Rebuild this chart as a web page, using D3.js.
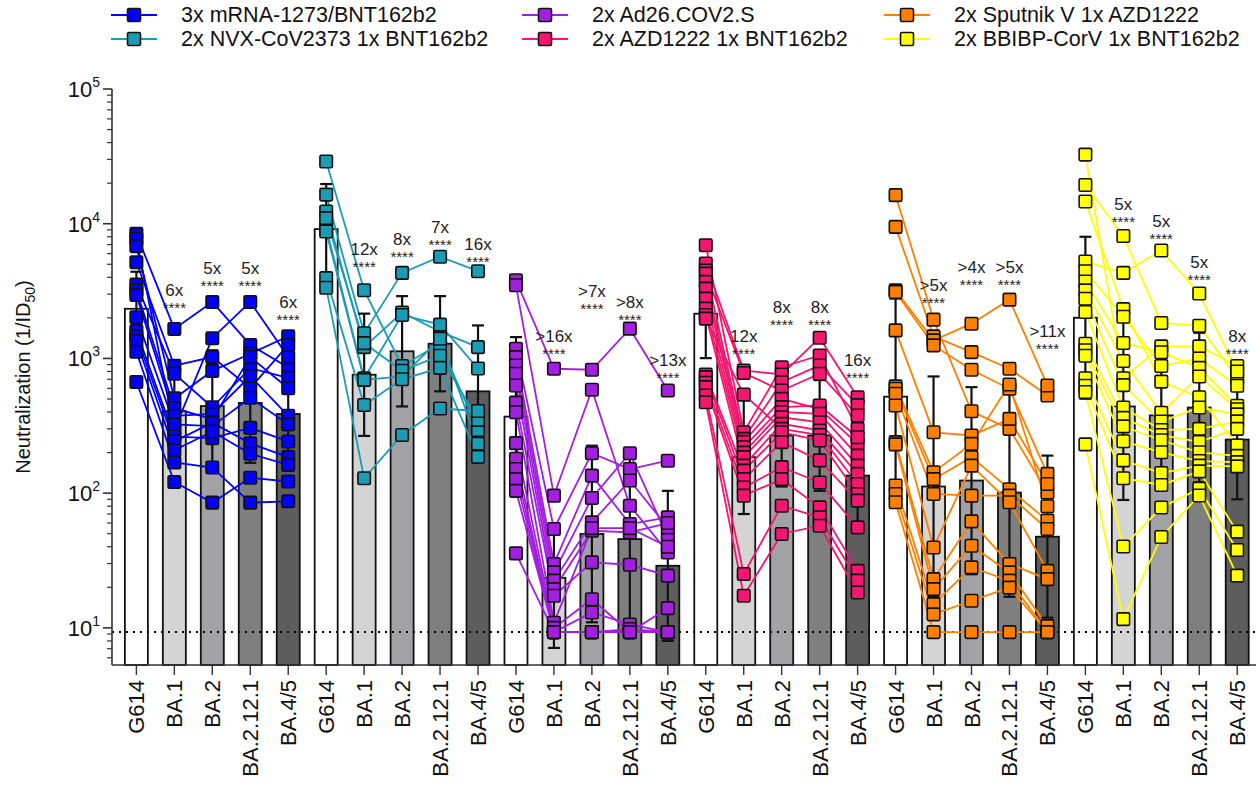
<!DOCTYPE html>
<html>
<head>
<meta charset="utf-8">
<script src="https://cdn.jsdelivr.net/npm/d3@7"></script>
<style>
  body { margin: 0; background: #fff; }
  text { font-family: "Liberation Sans", Arial, sans-serif; }
</style>
</head>
<body>
<svg id="chart" width="1260" height="788"></svg>
<script>
// variants measured for every vaccine group
const variants = ["G614", "BA.1", "BA.2", "BA.2.12.1", "BA.4/5"];
const barFills = ["#ffffff", "#d4d4d4", "#a2a2a6", "#7f7f7f", "#5d5d5d"];

const groupNames = ["3x mRNA-1273/BNT162b2", "2x NVX-CoV2373 1x BNT162b2", "2x Ad26.COV2.S",
                    "2x AZD1222 1x BNT162b2", "2x Sputnik V 1x AZD1222", "2x BBIBP-CorV 1x BNT162b2"];
const groupColors = ["#0000ff", "#1a9db4", "#a21fe0", "#f4166f", "#ff8000", "#ffff00"];

// one row per donor: G614, BA.1, BA.2, BA.2.12.1, BA.4/5
const mrnaDonors = [
  [8400, 1655, 2625, 1259, 857], [7700, 296, 1413, 2625, 1023], [6820, 505, 808, 1084, 1460],
  [5180, 883, 1023, 601, 1259], [3530, 771, 434, 847, 717], [3200, 427, 354, 1023, 601],
  [2960, 375, 387, 740, 375], [2020, 324, 314, 510, 324], [1600, 263, 256, 305, 242],
  [1460, 242, 334, 234, 185], [1340, 208, 287, 196, 162], [1120, 169, 155, 85, 87],
  [668, 121, 85, 130, 122]
];
const nvxDonors = [
  [28970, 3210, 879, 1286, 294], [16450, 1537, 4315, 5690, 4443], [12330, 1213, 2191, 1582, 1213],
  [9290, 713, 2100, 1782, 841], [8750, 693, 735, 1400, 233], [11000, 1300, 810, 1047, 350],
  [3945, 451, 700, 851, 186], [3350, 129, 270, 425, 407]
];
const ad26Donors = [
  [3800, 838, 824, 1663, 578], [3490, 95.8, 585, 80.7, 36.3], [1181, 54.2, 198, 151, 174],
  [1023, 29.8, 135, 59, 66.1], [887, 25.8, 92, 198, 46.9], [769, 22.4, 60.7, 124, 55.7],
  [630, 19.4, 52.6, 51.1, 60], [470, 17.3, 30.6, 29.4, 24.4], [399, 10.9, 55, 55, 40],
  [235, 10, 16.3, 9.3, 14], [180, 9.3, 13, 10.6, 9.3], [151, 9.3, 9.3, 9.8, 9.3],
  [127, 9.3, 9.3, 9.3, 9.3], [104, 9.3, 9.3, 9.3, 9.3], [35.7, 9.3, 9.3, 9.3, 9.3]
];
const azdDonors = [
  [6920, 283, 861, 1052, 300], [5060, 814, 760, 1425, 515], [4500, 253, 666, 887, 450],
  [4260, 780, 578, 769, 377], [3700, 240, 501, 420, 232], [3300, 219, 435, 447, 260],
  [2780, 200, 400, 388, 190], [2343, 185, 366, 336, 160], [2100, 160, 327, 292, 139],
  [1973, 540, 300, 270, 117], [760, 147, 283, 246, 98.6], [726, 127, 239, 175, 88],
  [660, 110, 156, 120, 55.7], [612, 95.8, 127, 78.4, 26.5], [530, 25.1, 80.7, 66.1, 22.4],
  [473, 17.3, 49.8, 57.3, 18.3]
];
const sputnikDonors = [
  [16290, 1940, 405, 300, 101], [9470, 1458, 1114, 838, 531], [3200, 1361, 1811, 2731, 630],
  [3110, 1249, 824, 595, 139], [1615, 283, 268, 356, 117], [620, 143, 232, 640, 80],
  [595, 127, 185, 107, 62.5], [547, 98.6, 95.8, 95.8, 54.2], [447, 39.5, 160, 85.5, 26.5],
  [239, 23, 61.7, 29.8, 23], [230, 19.4, 40.7, 25.8, 10.3], [114, 15, 28.1, 22.4, 9.3],
  [98.6, 12.6, 15.9, 19.9, 9.3], [85.5, 9.3, 9.3, 9.3, 9.3]
];
const bbibpDonors = [
  [32600, 713, 1228, 1228, 879], [19400, 8110, 1834, 1750, 713], [14630, 2323, 673, 515, 226],
  [5240, 4315, 6330, 3030, 800], [4440, 2040, 879, 1000, 627], [3725, 1302, 1110, 851, 445],
  [3200, 958, 395, 735, 420], [2770, 634, 340, 432, 384], [2213, 432, 294, 300, 341],
  [1286, 362, 270, 240, 300], [1150, 313, 247, 201, 189], [1047, 243, 201, 173, 170],
  [713, 175, 141, 160, 158], [627, 129, 115, 145, 51.8], [564, 40.2, 78.2, 108, 37.8],
  [230, 11.6, 47.3, 96.1, 24.4]
];
const donorSets = [mrnaDonors, nvxDonors, ad26Donors, azdDonors, sputnikDonors, bbibpDonors];

// geometric mean (bar) and error bar ends per group
const geoMeans = [[2335, 405, 443, 467, 387], [9120, 757, 1130, 1286, 570], [370, 23.5, 49.8, 45.6, 28.9],
                  [2148, 185, 268, 268, 135], [520, 112, 124, 101, 47.5], [2004, 440, 378, 432, 250]];
const errHigh = [[4400, 908, 1150, 1300, 970], [19700, 2150, 2900, 2900, 1758], [1440, 58, 225, 204, 104],
                 [4590, 487, 640, 690, 300], [2780, 735, 612, 600, 190], [8000, 2175, 1286, 1550, 694]];
const errLow = [[1240, 181, 170, 168, 155], [4220, 266, 440, 570, 185], [95, 7.1, 11, 10.2, 8],
                [1005, 70, 112, 104, 61], [97, 17, 25, 17, 11.9], [502, 89, 111, 120, 90]];

// fold-drop labels for BA.1 .. BA.4/5, anchored at the value where the stars sit
const foldLabels = [["6x", "5x", "5x", "6x"], ["12x", "8x", "7x", "16x"], [">16x", ">7x", ">8x", ">13x"],
                    ["12x", "8x", "8x", "16x"], [">5x", ">4x", ">5x", ">11x"], ["5x", "5x", "5x", "8x"]];
const foldAt = [[2518, 3700, 3700, 2051], [5080, 6110, 7410, 5520], [1146, 2506, 2051, 769],
                [1161, 1884, 1884, 769], [2780, 3735, 3735, 1250], [11090, 8260, 4110, 1146]];

const detectionLimit = 9.3;

const svg = d3.select("#chart");
const plotTop = 89, plotBottom = 665, axisX = 112;

const cats = [];
groupNames.forEach((g, gi) => variants.forEach((v, vi) => cats.push(gi + "|" + vi)));
const x = d3.scalePoint().domain(cats).range([117.4, 1256.2]).padding(0.5);
const y = d3.scaleLog().domain([5.3, 1e5]).range([plotBottom, plotTop]);
const key = (gi, vi) => gi + "|" + vi;
const barW = 23, sq = 12.5, capW = 12;

// bars
const barG = svg.append("g");
groupNames.forEach((g, gi) => {
  variants.forEach((v, vi) => {
    const gm = geoMeans[gi][vi];
    barG.append("rect")
      .attr("x", x(key(gi, vi)) - barW / 2)
      .attr("y", y(gm))
      .attr("width", barW)
      .attr("height", plotBottom - y(gm))
      .attr("fill", barFills[vi])
      .attr("stroke", "#111")
      .attr("stroke-width", 1.8);
  });
});

// detection limit
svg.append("line")
  .attr("x1", axisX).attr("x2", 1256)
  .attr("y1", y(detectionLimit)).attr("y2", y(detectionLimit))
  .attr("stroke", "#000").attr("stroke-width", 2)
  .attr("stroke-dasharray", "2,5");

// donor lines
const line = d3.line().x(d => d[0]).y(d => d[1]);
donorSets.forEach((donors, gi) => {
  svg.append("g").selectAll("path")
    .data(donors)
    .join("path")
    .attr("d", row => line(row.map((val, vi) => [x(key(gi, vi)), y(val)])))
    .attr("fill", "none")
    .attr("stroke", groupColors[gi])
    .attr("stroke-width", 1.8);
});

// error bars
const errG = svg.append("g").attr("stroke", "#111").attr("stroke-width", 2.2);
groupNames.forEach((g, gi) => {
  variants.forEach((v, vi) => {
    const cx = x(key(gi, vi));
    const hi = y(errHigh[gi][vi]), lo = y(errLow[gi][vi]);
    errG.append("line").attr("x1", cx).attr("x2", cx).attr("y1", hi).attr("y2", lo);
    errG.append("line").attr("x1", cx - capW / 2).attr("x2", cx + capW / 2).attr("y1", hi).attr("y2", hi);
    errG.append("line").attr("x1", cx - capW / 2).attr("x2", cx + capW / 2).attr("y1", lo).attr("y2", lo);
  });
});

// points
donorSets.forEach((donors, gi) => {
  const pts = [];
  donors.forEach(row => row.forEach((val, vi) => pts.push({ vi, val })));
  svg.append("g").selectAll("rect")
    .data(pts)
    .join("rect")
    .attr("x", d => x(key(gi, d.vi)) - sq / 2)
    .attr("y", d => y(d.val) - sq / 2)
    .attr("width", sq).attr("height", sq)
    .attr("rx", 1.5)
    .attr("fill", groupColors[gi])
    .attr("stroke", "#111")
    .attr("stroke-width", 1.6);
});

// fold labels
const annG = svg.append("g").attr("text-anchor", "middle").attr("fill", "#222");
foldLabels.forEach((labels, gi) => {
  labels.forEach((lab, li) => {
    const cx = x(key(gi, li + 1));
    const cy = y(foldAt[gi][li]);
    annG.append("text").attr("x", cx).attr("y", cy - 8).attr("font-size", 17).text(lab);
    annG.append("text").attr("x", cx).attr("y", cy + 9).attr("font-size", 15).text("****");
  });
});

// y axis
const yAx = svg.append("g");
yAx.append("line").attr("x1", axisX).attr("x2", axisX).attr("y1", plotTop).attr("y2", plotBottom)
  .attr("stroke", "#333").attr("stroke-width", 1.6);
const minorTicks = [];
[1, 10, 100, 1000, 10000].forEach(dec => d3.range(2, 10).forEach(m => minorTicks.push(dec * m)));
minorTicks.filter(t => t >= 5.3).forEach(t => {
  yAx.append("line").attr("x1", axisX - 5).attr("x2", axisX).attr("y1", y(t)).attr("y2", y(t))
    .attr("stroke", "#333").attr("stroke-width", 1.2);
});
[1, 2, 3, 4, 5].forEach(p => {
  const ty = y(Math.pow(10, p));
  yAx.append("line").attr("x1", axisX - 9).attr("x2", axisX).attr("y1", ty).attr("y2", ty)
    .attr("stroke", "#333").attr("stroke-width", 1.6);
  const t = yAx.append("text").attr("x", 100).attr("y", ty + 8).attr("text-anchor", "end")
    .attr("font-size", 22).attr("fill", "#111");
  t.append("tspan").text("10");
  t.append("tspan").attr("font-size", 14).attr("dy", -10).text(p);
});
const yTitle = svg.append("text")
  .attr("transform", "translate(30," + ((plotTop + plotBottom) / 2) + ") rotate(-90)")
  .attr("text-anchor", "middle").attr("font-size", 20).attr("fill", "#111");
yTitle.append("tspan").text("Neutralization (1/ID");
yTitle.append("tspan").attr("font-size", 14).attr("dy", 5).text("50");
yTitle.append("tspan").attr("dy", -5).text(")");

// x axis
const xAx = svg.append("g");
xAx.append("line").attr("x1", axisX).attr("x2", 1256).attr("y1", plotBottom).attr("y2", plotBottom)
  .attr("stroke", "#333").attr("stroke-width", 1.6);
groupNames.forEach((g, gi) => {
  variants.forEach((v, vi) => {
    const cx = x(key(gi, vi));
    xAx.append("line").attr("x1", cx).attr("x2", cx).attr("y1", plotBottom).attr("y2", plotBottom + 10)
      .attr("stroke", "#333").attr("stroke-width", 1.4);
    xAx.append("text")
      .attr("transform", "translate(" + (cx + 8) + "," + (plotBottom + 15) + ") rotate(-90)")
      .attr("text-anchor", "end").attr("font-size", 22).attr("fill", "#111")
      .text(v);
  });
});

// legend
const legCols = [134, 545, 907], legRows = [15, 39];
groupNames.forEach((g, gi) => {
  const lx = legCols[Math.floor(gi / 2)], ly = legRows[gi % 2];
  const lg = svg.append("g");
  lg.append("line").attr("x1", lx - 23).attr("x2", lx + 23).attr("y1", ly).attr("y2", ly)
    .attr("stroke", groupColors[gi]).attr("stroke-width", 2);
  lg.append("rect").attr("x", lx - 6.5).attr("y", ly - 6.5).attr("width", 13).attr("height", 13)
    .attr("rx", 1.5).attr("fill", groupColors[gi]).attr("stroke", "#111").attr("stroke-width", 1.6);
  lg.append("text").attr("x", lx + 47).attr("y", ly + 7).attr("font-size", 21.5).attr("fill", "#111").text(g);
});
</script>
</body>
</html>
